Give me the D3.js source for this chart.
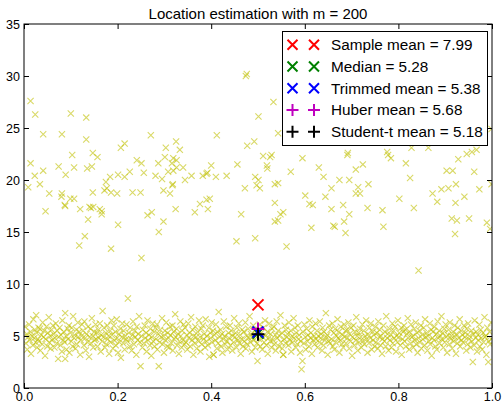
<!DOCTYPE html>
<html>
<head>
<meta charset="utf-8">
<script src="https://cdn.jsdelivr.net/npm/d3@7"></script>
<style>
  body { margin: 0; background: #fff; }
  svg { display: block; font-family: "Liberation Sans", Arial, sans-serif; }
</style>
</head>
<body>
<svg width="503" height="403"></svg>
<script>
var title = "Location estimation with m = 200";
var xTicks = [0, 0.2, 0.4, 0.6, 0.8, 1.0];
var yTicks = [0, 5, 10, 15, 20, 25, 30, 35];

// estimators shown at x = 0.5
var estNames = ["Sample mean", "Median", "Trimmed mean", "Huber mean", "Student-t mean"];
var estValues = [7.99, 5.28, 5.38, 5.68, 5.18];
var estColors = ["#ff0000", "#008000", "#0000ff", "#bf00bf", "#000000"];
var estShapes = ["x", "x", "x", "+", "+"];
var estX = 0.5;

// contaminating points (around 20)
var outliers = [
  [0.014,27.6],[0.024,26.3],[0.100,26.4],[0.133,26.0],[0.041,24.4],[0.081,24.4],[0.133,23.9],[0.271,24.3],
  [0.014,21.6],[0.103,22.4],[0.147,22.6],[0.157,22.2],[0.207,23.1],[0.215,23.5],[0.303,23.1],[0.241,21.9],
  [0.251,21.6],[0.287,21.6],[0.301,22.2],[0.074,21.3],[0.107,21.2],[0.135,21.1],[0.145,21.3],[0.041,20.9],
  [0.023,20.4],[0.089,20.5],[0.201,20.5],[0.215,20.3],[0.226,20.8],[0.256,20.7],[0.281,20.4],[0.295,20.1],
  [0.184,20.3],[0.009,19.3],[0.034,19.6],[0.175,19.8],[0.177,19.2],[0.172,19.0],[0.186,18.8],[0.199,18.7],
  [0.147,18.8],[0.054,18.7],[0.081,18.7],[0.080,18.4],[0.099,18.2],[0.107,18.2],[0.088,17.5],[0.120,17.2],
  [0.140,17.4],[0.148,17.4],[0.166,17.0],[0.166,16.7],[0.046,17.0],[0.232,18.8],[0.249,18.8],[0.298,19.0],
  [0.264,16.6],[0.273,16.9],[0.087,17.6],[0.143,17.3],[0.162,17.2],[0.137,16.2],[0.130,14.6],[0.118,13.7],
  [0.186,13.4],[0.201,15.7],[0.251,12.5],[0.298,16.0],[0.288,15.0],[0.324,17.2],[0.312,18.7],[0.318,19.6],
  [0.319,20.9],[0.476,30.2],[0.474,30.0],[0.533,27.5],[0.501,26.1],[0.412,24.3],[0.477,23.3],[0.492,23.7],
  [0.543,24.5],[0.511,22.3],[0.526,22.2],[0.529,22.4],[0.519,21.4],[0.520,21.1],[0.595,22.1],[0.570,20.8],
  [0.630,21.2],[0.640,20.3],[0.456,21.5],[0.433,20.4],[0.410,20.3],[0.400,21.4],[0.390,20.6],[0.382,20.4],
  [0.358,20.4],[0.344,20.0],[0.325,23.7],[0.333,22.9],[0.319,22.1],[0.316,21.6],[0.326,21.2],[0.340,21.2],
  [0.308,20.8],[0.317,19.5],[0.472,19.2],[0.494,20.3],[0.501,20.0],[0.504,19.2],[0.536,19.6],[0.543,19.7],
  [0.536,17.8],[0.554,16.9],[0.548,16.7],[0.543,16.1],[0.601,18.5],[0.610,17.7],[0.617,17.6],[0.644,18.4],
  [0.614,15.4],[0.561,13.6],[0.494,14.4],[0.454,14.1],[0.464,16.7],[0.365,16.9],[0.376,17.7],[0.390,18.1],
  [0.397,18.2],[0.393,17.2],[0.326,21.9],[0.657,19.2],[0.657,17.2],[0.661,15.6],[0.536,16.0],[0.497,19.5],
  [0.392,20.7],[0.691,22.4],[0.709,21.0],[0.724,21.5],[0.776,22.7],[0.784,22.1],[0.778,22.4],[0.816,21.6],
  [0.825,20.2],[0.928,22.0],[0.946,22.5],[0.957,22.7],[0.967,22.9],[0.903,20.9],[0.916,20.9],[0.962,20.8],
  [0.674,20.0],[0.695,20.0],[0.714,19.3],[0.736,19.6],[0.709,18.7],[0.718,18.7],[0.802,18.2],[0.873,18.7],
  [0.883,17.9],[0.892,19.1],[0.907,19.2],[0.923,19.6],[0.973,19.1],[0.941,18.4],[0.922,17.8],[0.682,17.6],
  [0.695,16.7],[0.734,17.3],[0.766,17.1],[0.833,17.3],[0.664,15.5],[0.684,16.0],[0.687,14.9],[0.768,15.5],
  [0.914,16.3],[0.925,16.1],[0.951,16.3],[0.921,14.8],[0.989,15.9],[0.996,15.3],[0.999,19.6],[0.843,11.3],
  [0.828,23.1],[0.864,23.1],[0.692,22.6],[0.999,24.9]
];

// main sample (around 5)
var inliers = [
  [0.002,5.9],[0.004,4.3],[0.006,5.2],[0.007,3.7],[0.009,4.9],[0.011,6.1],[0.012,4.6],[0.014,5.4],[0.015,3.3],[0.017,5.0],
  [0.019,4.1],[0.020,6.6],[0.022,4.8],[0.023,5.6],[0.025,4.4],[0.026,7.0],[0.027,5.3],[0.028,3.9],[0.030,4.7],[0.031,5.8],
  [0.032,4.5],[0.034,5.7],[0.035,3.6],[0.037,5.1],[0.039,4.2],[0.040,6.3],[0.042,4.9],[0.043,5.5],[0.045,3.1],[0.046,4.7],
  [0.048,5.9],[0.050,4.0],[0.051,5.3],[0.053,6.8],[0.054,4.4],[0.056,5.0],[0.057,3.8],[0.059,5.6],[0.060,4.6],[0.062,6.0],
  [0.063,5.2],[0.065,3.9],[0.066,4.8],[0.068,6.2],[0.070,4.3],[0.071,5.5],[0.073,2.8],[0.074,4.9],[0.076,5.8],[0.078,4.1],
  [0.079,5.1],[0.081,3.5],[0.082,6.5],[0.084,4.6],[0.085,5.4],[0.087,4.4],[0.088,7.2],[0.090,5.0],[0.091,3.7],[0.093,5.7],
  [0.094,4.7],[0.096,6.0],[0.097,3.4],[0.099,5.3],[0.101,4.5],[0.102,5.8],[0.104,4.0],[0.105,6.9],[0.107,4.8],[0.108,5.1],
  [0.110,3.8],[0.112,5.6],[0.113,4.2],[0.115,6.3],[0.116,4.9],[0.118,5.4],[0.120,3.2],[0.121,4.6],[0.123,5.0],[0.124,6.1],
  [0.126,5.5],[0.128,4.1],[0.129,6.4],[0.131,4.8],[0.132,3.6],[0.134,5.2],[0.136,4.4],[0.137,5.9],[0.139,3.0],[0.140,4.9],
  [0.142,5.7],[0.143,4.3],[0.145,6.7],[0.147,5.0],[0.148,3.9],[0.150,5.4],[0.151,4.6],[0.153,6.1],[0.154,4.7],[0.156,5.3],
  [0.157,4.0],[0.159,5.6],[0.160,4.8],[0.162,6.2],[0.164,3.5],[0.165,5.1],[0.167,4.5],[0.168,7.4],[0.170,4.9],[0.171,5.8],
  [0.173,3.9],[0.175,5.3],[0.176,4.2],[0.178,6.0],[0.179,4.7],[0.181,5.0],[0.182,3.3],[0.184,5.5],[0.185,4.4],[0.187,6.5],
  [0.188,5.1],[0.190,3.8],[0.192,6.0],[0.193,4.6],[0.195,5.4],[0.196,4.1],[0.198,6.6],[0.199,4.8],[0.201,3.4],[0.203,5.2],
  [0.204,4.4],[0.206,5.7],[0.207,2.9],[0.209,4.9],[0.210,6.2],[0.212,4.3],[0.213,5.5],[0.215,3.7],[0.216,5.0],[0.218,4.7],
  [0.219,6.1],[0.221,4.5],[0.222,8.6],[0.224,5.3],[0.226,4.0],[0.227,5.8],[0.229,4.7],[0.230,3.6],[0.232,5.1],[0.233,6.4],
  [0.235,4.2],[0.237,5.5],[0.238,4.9],[0.240,3.2],[0.241,5.9],[0.243,4.6],[0.244,5.2],[0.246,6.9],[0.248,4.4],[0.249,2.1],
  [0.251,5.0],[0.253,3.9],[0.254,5.6],[0.256,4.3],[0.258,6.0],[0.259,4.8],[0.261,5.3],[0.262,3.5],[0.264,6.5],[0.265,4.6],
  [0.267,5.1],[0.269,4.1],[0.270,5.7],[0.272,3.1],[0.273,4.9],[0.275,6.2],[0.276,4.5],[0.278,5.4],[0.279,4.0],[0.281,5.8],
  [0.282,4.7],[0.284,6.1],[0.285,3.7],[0.287,5.2],[0.288,2.1],[0.290,4.4],[0.291,5.6],[0.293,4.9],[0.295,6.7],[0.296,4.2],
  [0.298,5.0],[0.299,3.4],[0.301,5.5],[0.302,4.6],[0.304,6.3],[0.306,4.0],[0.307,5.3],[0.309,4.8],[0.310,3.9],[0.312,5.9],
  [0.313,5.1],[0.315,4.3],[0.317,6.0],[0.318,3.6],[0.320,5.4],[0.321,4.7],[0.323,7.1],[0.324,4.9],[0.326,5.7],[0.327,4.1],
  [0.329,5.2],[0.331,3.3],[0.332,4.5],[0.334,6.4],[0.335,5.0],[0.337,3.9],[0.338,5.5],[0.340,4.6],[0.341,6.1],[0.343,4.2],
  [0.344,5.8],[0.346,4.4],[0.348,5.1],[0.349,3.7],[0.351,6.2],[0.352,4.8],[0.354,5.3],[0.355,4.0],[0.357,6.8],[0.359,4.6],
  [0.360,5.6],[0.362,3.2],[0.363,5.0],[0.365,4.3],[0.366,5.9],[0.368,4.9],[0.369,3.8],[0.371,5.4],[0.373,4.5],[0.374,6.5],
  [0.376,4.9],[0.377,3.5],[0.379,5.7],[0.380,4.2],[0.382,6.0],[0.384,4.7],[0.385,5.2],[0.387,3.9],[0.388,6.6],[0.390,4.5],
  [0.391,5.0],[0.393,4.1],[0.395,5.8],[0.396,3.0],[0.398,5.3],[0.399,4.8],[0.401,6.3],[0.402,4.4],[0.404,5.5],[0.405,3.2],
  [0.407,5.1],[0.409,4.6],[0.410,6.1],[0.412,3.8],[0.413,5.4],[0.415,4.3],[0.416,7.3],[0.418,4.9],[0.420,5.6],[0.421,4.0],
  [0.423,5.2],[0.424,3.4],[0.426,4.7],[0.427,6.4],[0.429,5.0],[0.430,4.2],[0.432,5.9],[0.434,4.5],[0.435,3.7],[0.437,5.3],
  [0.438,4.8],[0.440,6.0],[0.441,4.1],[0.443,5.5],[0.445,3.6],[0.446,5.0],[0.448,4.4],[0.449,6.7],[0.451,4.9],[0.452,5.3],
  [0.454,3.9],[0.455,5.8],[0.457,4.6],[0.459,6.2],[0.460,4.3],[0.462,5.1],[0.463,3.3],[0.465,4.7],[0.466,5.6],[0.468,4.0],
  [0.470,5.4],[0.471,4.5],[0.473,6.3],[0.474,3.8],[0.476,5.0],[0.477,4.2],[0.479,5.7],[0.480,4.8],[0.482,6.9],[0.484,4.4],
  [0.485,5.2],[0.487,3.5],[0.488,4.9],[0.490,6.0],[0.491,4.6],[0.493,5.5],[0.494,3.9],[0.496,5.1],[0.498,4.3],[0.499,2.6],
  [0.501,5.6],[0.502,4.7],[0.504,6.1],[0.505,4.0],[0.507,5.3],[0.509,3.7],[0.510,4.9],[0.512,5.8],[0.513,4.4],[0.515,6.5],
  [0.516,5.0],[0.518,4.1],[0.520,5.4],[0.521,3.3],[0.523,4.8],[0.524,6.2],[0.526,4.5],[0.527,5.2],[0.529,3.9],[0.530,5.7],
  [0.532,4.6],[0.534,5.9],[0.535,4.2],[0.537,5.1],[0.538,3.6],[0.540,6.4],[0.541,4.8],[0.543,5.5],[0.545,4.0],[0.546,5.0],
  [0.548,7.0],[0.549,4.4],[0.551,5.3],[0.552,3.8],[0.554,3.2],[0.556,4.7],[0.557,6.0],[0.559,4.3],[0.560,5.6],[0.562,4.9],
  [0.563,5.2],[0.565,4.1],[0.566,6.3],[0.568,4.6],[0.570,5.5],[0.571,3.5],[0.573,5.0],[0.574,4.4],[0.576,6.7],[0.577,4.8],
  [0.579,5.8],[0.581,3.9],[0.582,5.3],[0.584,4.2],[0.585,6.0],[0.587,4.7],[0.588,5.1],[0.590,3.4],[0.591,4.5],[0.593,1.8],
  [0.595,2.6],[0.596,5.4],[0.598,4.3],[0.599,6.1],[0.601,4.9],[0.602,3.7],[0.604,5.7],[0.606,4.5],[0.607,5.1],[0.609,4.0],
  [0.610,6.5],[0.612,4.8],[0.613,5.3],[0.615,3.3],[0.616,5.9],[0.618,4.6],[0.620,5.0],[0.621,4.2],[0.623,6.2],[0.624,4.7],
  [0.626,5.5],[0.627,3.9],[0.629,5.0],[0.631,4.4],[0.632,6.4],[0.634,4.8],[0.635,5.2],[0.637,3.6],[0.638,5.8],[0.640,4.1],
  [0.641,5.4],[0.643,4.6],[0.645,7.2],[0.646,4.9],[0.648,5.1],[0.649,3.2],[0.651,4.5],[0.652,6.0],[0.654,4.3],[0.655,5.6],
  [0.657,4.7],[0.659,6.2],[0.660,4.0],[0.662,5.3],[0.663,3.7],[0.665,5.7],[0.666,4.4],[0.668,5.0],[0.670,6.6],[0.671,4.8],
  [0.673,5.4],[0.674,3.4],[0.676,4.6],[0.677,5.9],[0.679,4.2],[0.681,5.1],[0.682,3.9],[0.684,6.1],[0.685,4.9],[0.687,5.5],
  [0.688,4.3],[0.690,5.6],[0.691,4.8],[0.693,6.3],[0.695,3.8],[0.696,5.2],[0.698,4.5],[0.699,5.8],[0.701,3.1],[0.702,4.9],
  [0.704,6.0],[0.706,4.1],[0.707,5.4],[0.709,4.6],[0.710,6.8],[0.712,5.0],[0.713,3.6],[0.715,5.3],[0.716,4.4],[0.718,5.7],
  [0.720,4.9],[0.721,3.9],[0.723,6.1],[0.724,4.5],[0.726,5.5],[0.727,4.2],[0.729,5.0],[0.731,6.5],[0.732,4.7],[0.734,3.4],
  [0.735,5.2],[0.737,4.3],[0.738,5.8],[0.740,4.8],[0.741,6.2],[0.743,3.7],[0.745,5.4],[0.746,4.6],[0.748,5.1],[0.749,4.0],
  [0.751,5.9],[0.752,4.4],[0.754,5.3],[0.756,3.8],[0.757,6.4],[0.759,4.9],[0.760,5.6],[0.762,4.1],[0.763,5.0],[0.765,3.3],
  [0.766,4.7],[0.768,6.0],[0.770,4.5],[0.771,5.4],[0.773,4.0],[0.774,6.9],[0.776,4.8],[0.777,5.2],[0.779,3.6],[0.781,5.7],
  [0.782,4.6],[0.784,5.1],[0.785,3.9],[0.787,6.2],[0.788,4.3],[0.790,5.5],[0.791,4.8],[0.793,5.9],[0.795,3.5],[0.796,5.0],
  [0.798,4.4],[0.799,6.5],[0.801,4.9],[0.802,5.3],[0.804,4.1],[0.806,5.8],[0.807,3.2],[0.809,4.7],[0.810,5.4],[0.812,6.0],
  [0.813,4.5],[0.815,5.6],[0.816,4.0],[0.818,5.2],[0.820,6.7],[0.821,4.8],[0.823,3.7],[0.824,5.4],[0.826,4.3],[0.827,6.1],
  [0.829,4.9],[0.831,5.0],[0.832,3.9],[0.834,5.7],[0.835,4.6],[0.837,6.3],[0.838,4.2],[0.840,5.3],[0.841,3.4],[0.843,4.8],
  [0.845,5.5],[0.846,4.4],[0.848,6.0],[0.849,3.8],[0.851,5.1],[0.852,4.7],[0.854,5.8],[0.856,4.1],[0.857,6.6],[0.859,4.9],
  [0.860,5.3],[0.862,3.6],[0.863,5.0],[0.865,4.5],[0.867,6.2],[0.868,4.2],[0.870,5.6],[0.871,3.1],[0.873,4.8],[0.874,5.4],
  [0.876,4.6],[0.877,5.9],[0.879,4.0],[0.881,5.2],[0.882,3.7],[0.884,6.4],[0.885,4.8],[0.887,5.5],[0.888,4.3],[0.890,5.0],
  [0.892,6.9],[0.893,4.7],[0.895,5.3],[0.896,3.9],[0.898,5.7],[0.899,4.4],[0.901,6.1],[0.902,4.9],[0.904,3.4],[0.906,5.1],
  [0.907,5.6],[0.909,4.2],[0.910,6.3],[0.912,4.7],[0.913,5.0],[0.915,3.8],[0.917,5.4],[0.918,4.5],[0.920,6.0],[0.921,4.9],
  [0.923,3.3],[0.924,5.2],[0.926,4.3],[0.927,5.8],[0.929,4.8],[0.931,6.6],[0.932,4.0],[0.934,5.5],[0.935,4.6],[0.937,5.1],
  [0.938,4.4],[0.940,6.0],[0.942,4.9],[0.943,5.3],[0.945,3.6],[0.946,5.7],[0.948,4.2],[0.949,6.2],[0.951,4.7],[0.952,5.0],
  [0.954,3.9],[0.956,5.5],[0.957,4.5],[0.959,2.5],[0.960,5.2],[0.962,4.1],[0.963,6.5],[0.965,4.8],[0.966,5.4],[0.968,3.5],
  [0.970,5.1],[0.971,4.6],[0.973,6.1],[0.974,4.0],[0.976,5.6],[0.977,4.8],[0.979,3.7],[0.981,5.3],[0.982,4.4],[0.984,6.8],
  [0.985,4.9],[0.987,5.0],[0.988,3.2],[0.990,5.8],[0.992,2.5],[0.993,4.5],[0.995,5.4],[0.996,4.2],[0.998,6.3],[0.999,4.7],
  [0.088,2.8],[0.405,3.2],[0.554,3.2]
];

var svg = d3.select("svg"),
    plotLeft = 24, plotRight = 492, plotTop = 24, plotBottom = 388;

var x = d3.scaleLinear().domain([0, 1]).range([plotLeft, plotRight]);
var y = d3.scaleLinear().domain([0, 35]).range([plotBottom, plotTop]);

function crossPath(a) { return "M" + (-a) + "," + (-a) + "L" + a + "," + a + "M" + (-a) + "," + a + "L" + a + "," + (-a); }
function plusPath(a) { return "M" + (-a) + ",0H" + a + "M0," + (-a) + "V" + a; }

svg.append("defs").append("clipPath").attr("id", "plotclip")
  .append("rect").attr("x", plotLeft).attr("y", plotTop)
  .attr("width", plotRight - plotLeft).attr("height", plotBottom - plotTop);

var plot = svg.append("g").attr("clip-path", "url(#plotclip)");

// scatter of samples
plot.append("g")
  .selectAll("path")
  .data(inliers.concat(outliers))
  .join("path")
  .attr("transform", function(d) { return "translate(" + x(d[0]) + "," + y(d[1]) + ")"; })
  .attr("d", crossPath(3.1))
  .attr("fill", "none")
  .attr("stroke", "#bfbf00")
  .attr("stroke-opacity", 0.6)
  .attr("stroke-width", 1.1);

// estimates
var est = estNames.map(function(n, i) {
  return { name: n, value: estValues[i], color: estColors[i], shape: estShapes[i] };
});

plot.append("g")
  .selectAll("path")
  .data(est)
  .join("path")
  .attr("transform", function(d) { return "translate(" + x(estX) + "," + y(d.value) + ")"; })
  .attr("d", function(d) { return d.shape == "x" ? crossPath(5.5) : plusPath(6.5); })
  .attr("fill", "none")
  .attr("stroke", function(d) { return d.color; })
  .attr("stroke-width", 2);

// axes, ticks pointing inward
var tickLen = 5;
function styleAxis(g) {
  g.select(".domain").remove();
  g.selectAll(".tick line").attr("stroke", "#000");
  g.selectAll(".tick text").attr("fill", "#000").attr("font-size", "12.5px")
    .attr("font-family", "'Liberation Sans', Arial, sans-serif");
}

svg.append("g").attr("transform", "translate(0," + plotBottom + ")")
  .call(d3.axisBottom(x).tickValues(xTicks).tickFormat(d3.format(".1f")).tickSize(-tickLen).tickPadding(4))
  .call(styleAxis);
svg.append("g").attr("transform", "translate(0," + plotTop + ")")
  .call(d3.axisTop(x).tickValues(xTicks).tickFormat("").tickSize(-tickLen))
  .call(styleAxis);
svg.append("g").attr("transform", "translate(" + plotLeft + ",0)")
  .call(d3.axisLeft(y).tickValues(yTicks).tickFormat(d3.format("d")).tickSize(-tickLen).tickPadding(4))
  .call(styleAxis);
svg.append("g").attr("transform", "translate(" + plotRight + ",0)")
  .call(d3.axisRight(y).tickValues(yTicks).tickFormat("").tickSize(-tickLen))
  .call(styleAxis);

// frame
svg.append("rect")
  .attr("x", plotLeft).attr("y", plotTop)
  .attr("width", plotRight - plotLeft).attr("height", plotBottom - plotTop)
  .attr("fill", "none").attr("stroke", "#000").attr("stroke-width", 1);

// title
svg.append("text")
  .attr("x", (plotLeft + plotRight) / 2).attr("y", 19)
  .attr("text-anchor", "middle")
  .attr("font-size", "15px")
  .text(title);

// legend
var lg = svg.append("g");
lg.append("rect")
  .attr("x", 282.5).attr("y", 31.5).attr("width", 205).attr("height", 114)
  .attr("fill", "#fff").attr("stroke", "#000").attr("stroke-width", 1);

var rows = lg.selectAll(".row")
  .data(est)
  .join("g")
  .attr("class", "row")
  .attr("transform", function(d, i) { return "translate(0," + (44.7 + i * 21.75) + ")"; });

[292.5, 314].forEach(function(mx) {
  rows.append("path")
    .attr("transform", "translate(" + mx + ",0)")
    .attr("d", function(d) { return d.shape == "x" ? crossPath(5) : plusPath(6); })
    .attr("fill", "none")
    .attr("stroke", function(d) { return d.color; })
    .attr("stroke-width", 2);
});

rows.append("text")
  .attr("x", 331).attr("dy", "0.36em")
  .attr("font-size", "15.3px")
  .text(function(d) { return d.name + " = " + d.value.toFixed(2); });
</script>
</body>
</html>
